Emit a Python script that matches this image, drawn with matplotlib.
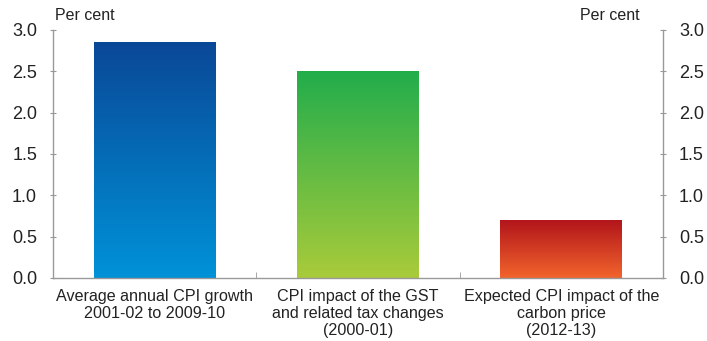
import matplotlib.pyplot as plt
import numpy as np
from matplotlib.colors import LinearSegmentedColormap

plt.rcParams['font.family'] = ['Liberation Sans', 'DejaVu Sans']

categories = ['Average annual CPI growth\n2001-02 to 2009-10',
              'CPI impact of the GST\nand related tax changes\n(2000-01)',
              'Expected CPI impact of the\ncarbon price\n(2012-13)']
values = [2.85, 2.50, 0.70]
# (bottom colour, top colour) for each bar's gradient
gradients = [('#0092d8', '#0a4897'),
             ('#a9cb3a', '#22ad4c'),
             ('#f2642c', '#b2151b')]
yticks = [0.0, 0.5, 1.0, 1.5, 2.0, 2.5, 3.0]

fig = plt.figure(figsize=(7.07, 3.41), dpi=100)
ax = fig.add_axes([53 / 707, 63 / 341, 610 / 707, 248 / 341])

x = np.arange(len(values))
bars = ax.bar(x, values, width=0.6, color='none', edgecolor='none')

grad = np.linspace(0, 1, 256).reshape(-1, 1)
for bar, (c0, c1) in zip(bars, gradients):
    cmap = LinearSegmentedColormap.from_list('g', [c0, c1])
    bx, by = bar.get_x(), bar.get_y()
    im = ax.imshow(grad, cmap=cmap, origin='lower', aspect='auto',
                   extent=[bx, bx + bar.get_width(), by, by + bar.get_height()],
                   zorder=2)
    im.set_clip_path(bar)

ax.set_xlim(-0.5, len(values) - 0.5)
ax.set_ylim(0, 3.0)
ax.set_yticks(yticks)
ax.set_yticklabels([f'{t:.1f}' for t in yticks])
ax.tick_params(axis='y', which='both', right=True, labelright=True,
               direction='inout', length=5, color='#999999',
               labelsize=13, labelcolor='#222222', pad=9)

ax.set_xticks(x)
ax.set_xticklabels(categories, fontsize=11.6, color='#222222',
                   linespacing=1.15)
ax.tick_params(axis='x', length=0, pad=8)
# small separators between categories on the bottom axis
ax.set_xticks([0.5, 1.5], minor=True)
ax.tick_params(axis='x', which='minor', direction='in', length=4,
               color='#999999')

for side in ['left', 'right', 'bottom']:
    ax.spines[side].set_color('#999999')
    ax.spines[side].set_linewidth(1)
ax.spines['top'].set_visible(False)

fig.text(55 / 707, 1 - 15 / 341, 'Per cent', fontsize=11.5, color='#222222',
         va='center', ha='left')
fig.text(640 / 707, 1 - 15 / 341, 'Per cent', fontsize=11.5, color='#222222',
         va='center', ha='right')

fig.savefig('out.png', dpi=100)
